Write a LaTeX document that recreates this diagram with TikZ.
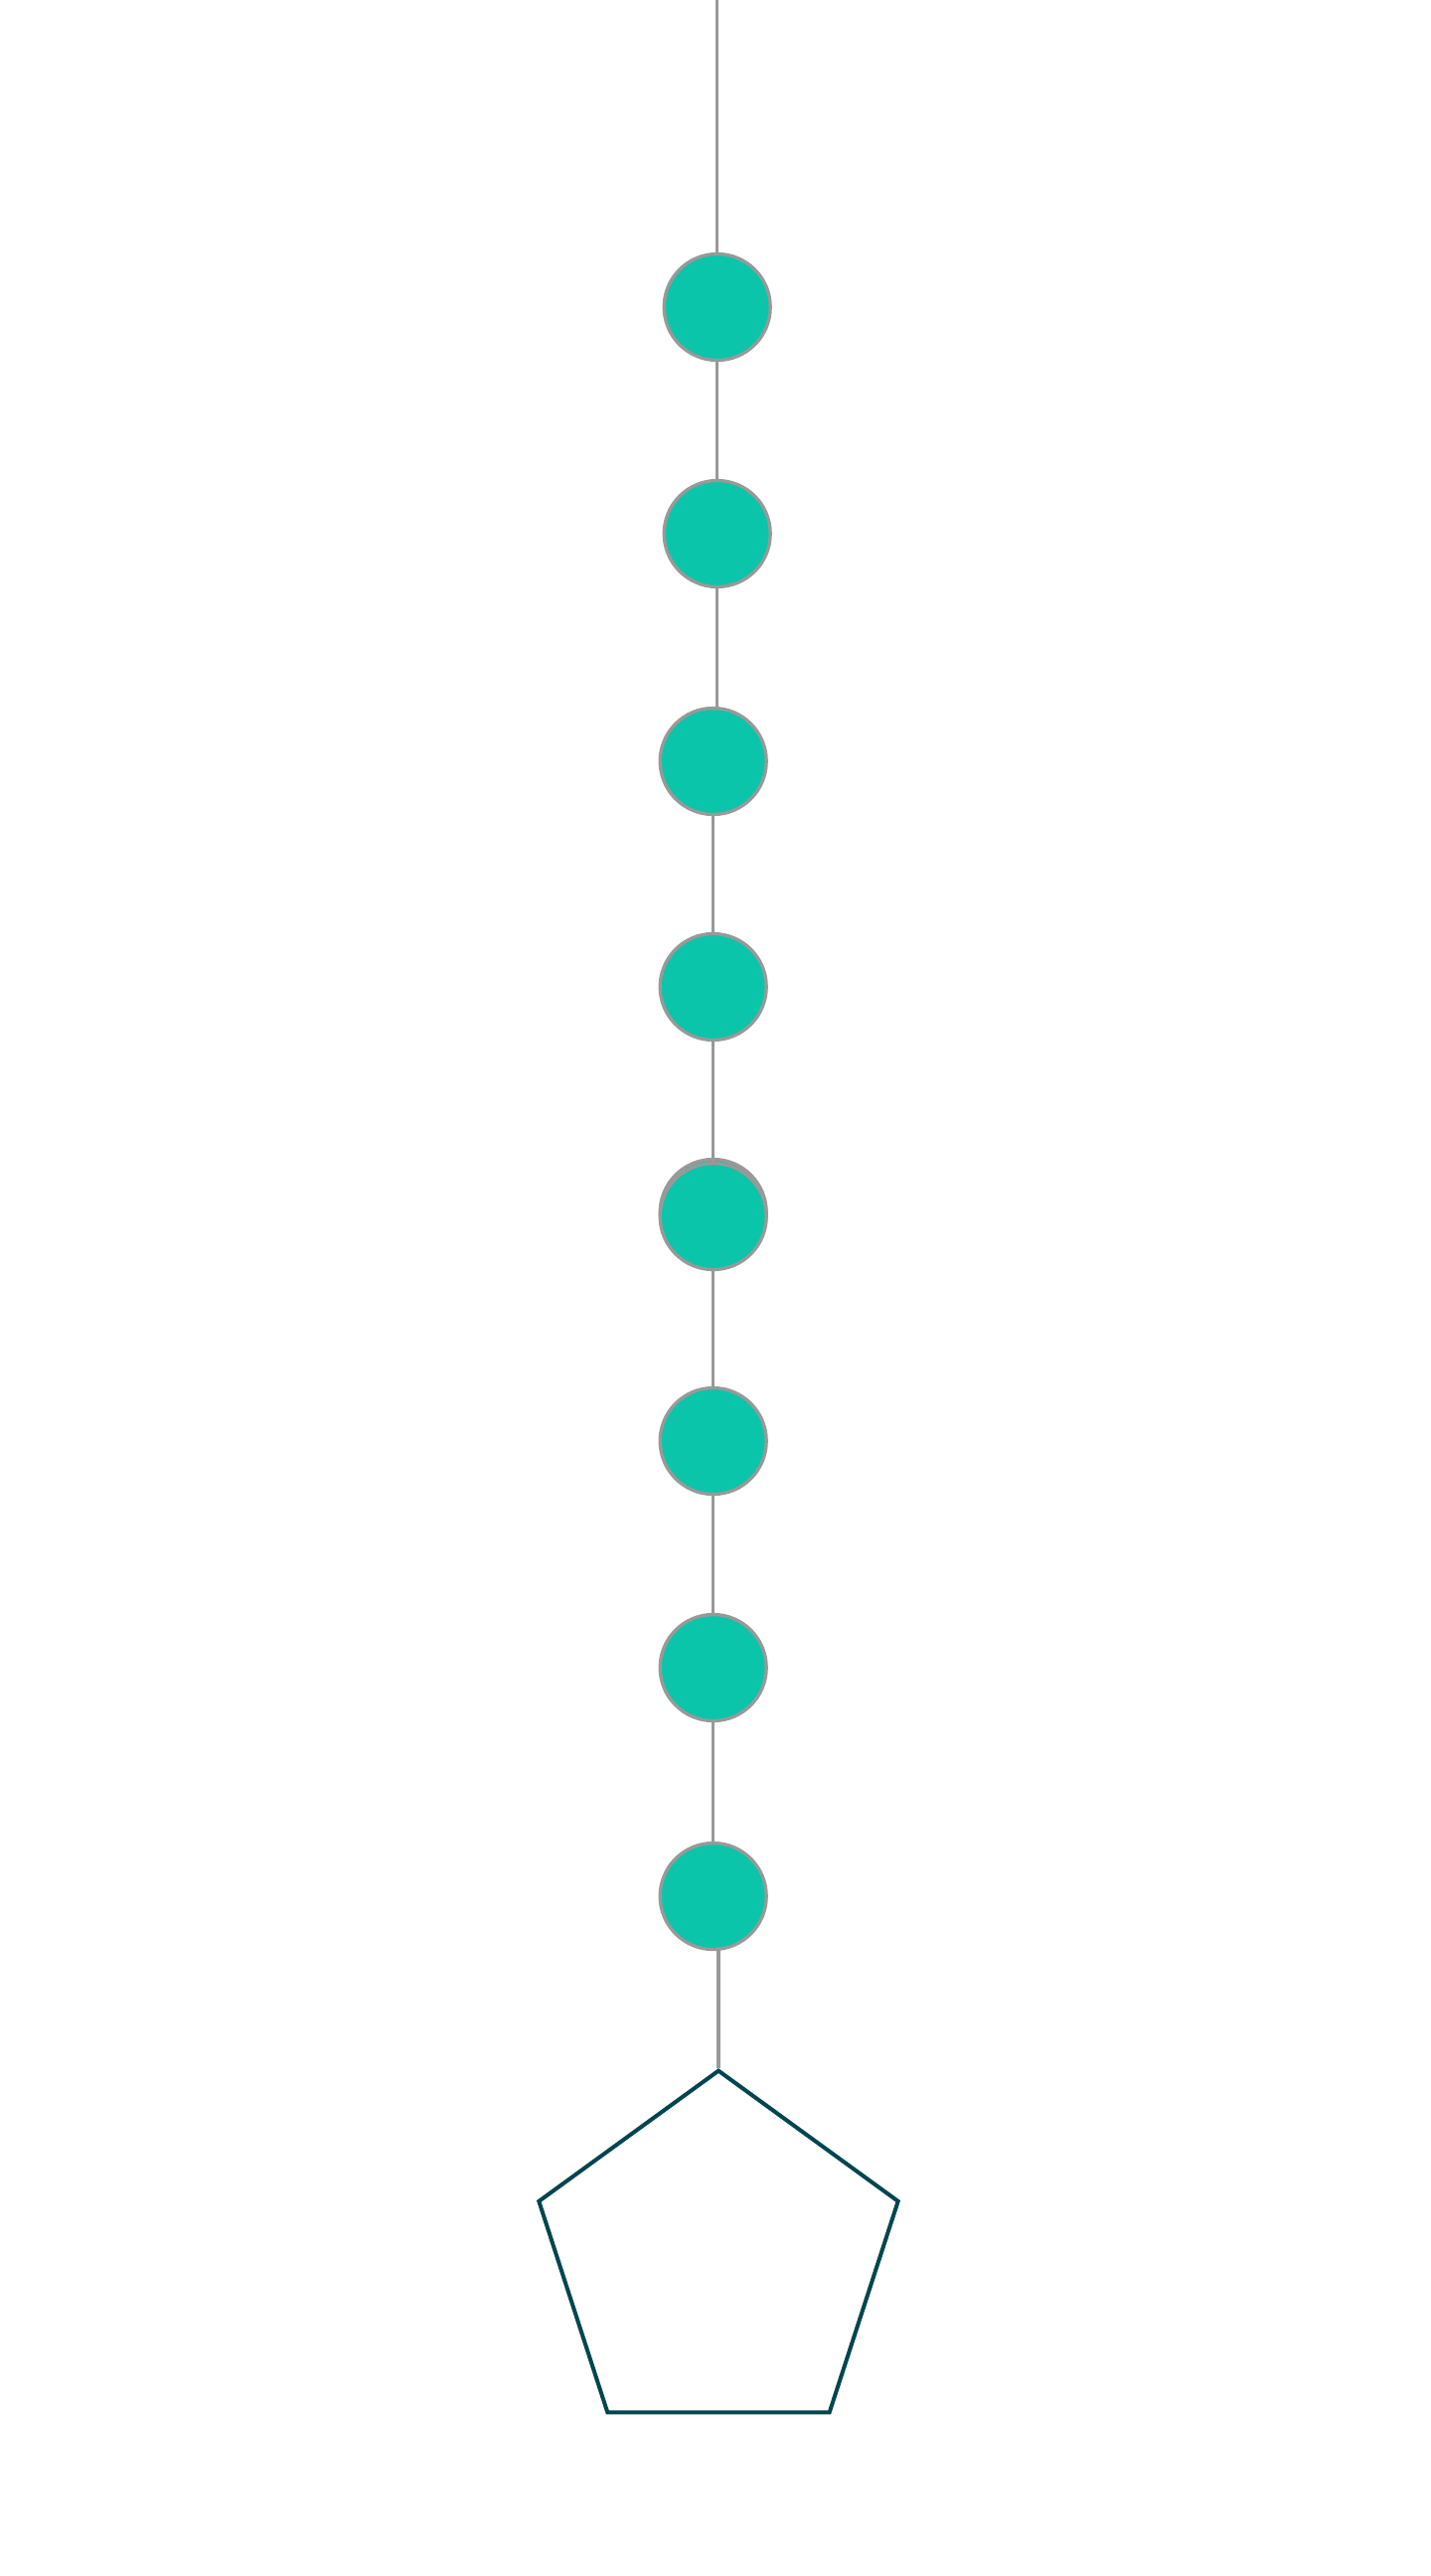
\documentclass[tikz,border=0pt]{standalone}
\usepackage{tikz}
\usetikzlibrary{shapes.geometric}
\definecolor{beadfill}{HTML}{0AC5AA}
\definecolor{threadgray}{HTML}{999999}
\definecolor{basedark}{HTML}{00464F}

\begin{document}
\begin{tikzpicture}[x=1pt, y=-1pt,
  bead/.style={circle, fill=beadfill, draw=threadgray, line width=3.3pt, minimum size=107pt, inner sep=0pt},
  thread/.style={draw=threadgray, line width=3.3pt}]
\useasboundingbox (0,0) rectangle (1440,2592);
\coordinate (top) at (721.7,0);
% beads on the thread
\foreach \i/\x/\y in {1/721.7/309, 2/721.7/537, 3/717.7/766, 4/717.7/993, 6/717.7/1450, 7/717.7/1678, 8/717.7/1908}
  \node[bead] (b\i) at (\x,\y) {};
\node[bead] (b5ghost) at (717.7,1220) {};
\node[bead] (b5) at (717.7,1224) {};
% base
\node[regular polygon, regular polygon sides=5, minimum size=380pt, inner sep=0pt, draw=basedark, line width=4pt] (base) at (723,2273.6) {};
\draw[thread] (top) -- (b1);
\draw[thread] (b1) -- (b2);
\draw[thread] (b2.south) -- (b2.south |- b3.north);
\foreach \a/\b in {3/4, 4/5, 5/6, 6/7, 7/8}
  \draw[thread] (b\a) -- (b\b);
\draw[thread] ([yshift=4pt]base.corner 1 |- b8.south) -- (base.corner 1);
\end{tikzpicture}
\end{document}
